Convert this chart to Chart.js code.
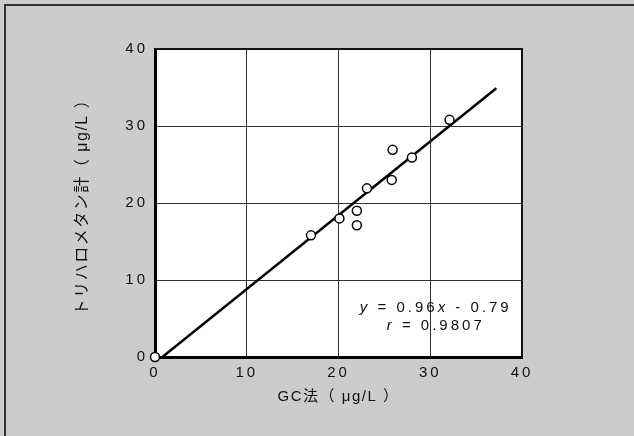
<!DOCTYPE html>
<html>
<head>
<meta charset="utf-8">
<script src="https://cdn.jsdelivr.net/npm/chart.js@4/dist/chart.umd.min.js"></script>
<style>
  html, body { margin: 0; padding: 0; background: #cccccc; }
  #wrap { position: relative; width: 634px; height: 436px; }
  #frame { position: absolute; left: 4px; top: 4px; right: 0; bottom: 0;
           border-top: 2px solid #333; border-left: 2px solid #333; pointer-events: none; }
</style>
</head>
<body>
<div id="wrap">
  <canvas id="chart" width="634" height="436"></canvas>
  <div id="frame"></div>
</div>
<script>
// 測定値
const gcValues  = [0, 17.0, 20.1, 22.0, 22.0, 23.1, 25.8, 25.9, 28.0, 32.1];
const thmValues = [0, 15.8, 18.0, 19.0, 17.1, 21.9, 23.0, 26.9, 25.9, 30.8];

// 回帰直線 (y = 0.96x - 0.79) の端点
const fitX = [0.8, 37.2];
const fitY = [0, 34.9];

const axisTicks = [0, 10, 20, 30, 40];

const FONT = "'Liberation Sans', Arial, 'Noto Sans CJK JP', sans-serif";

// 軸タイトルだけ字間を狭くする
function narrowTitle(s) {
    if (s._narrow) return;
    s._narrow = true;
    const orig = s.drawTitle;
    s.drawTitle = function () {
        const c = this.ctx;
        const ls = c.letterSpacing;
        c.letterSpacing = '1.5px';
        orig.apply(this, arguments);
        c.letterSpacing = ls;
    };
}

// プロット領域を白く塗る + 字間
const bgPlugin = {
    id: 'bg',
    beforeDraw(chart) {
        const { ctx, chartArea: a } = chart;
        ctx.save();
        ctx.fillStyle = '#fff';
        ctx.fillRect(a.left, a.top, a.right - a.left, a.bottom - a.top);
        ctx.restore();
        ctx.letterSpacing = '3px';
    }
};

// 枠線（上・右）と回帰式
const framePlugin = {
    id: 'frame',
    afterDraw(chart) {
        const { ctx, chartArea: a, scales } = chart;
        ctx.save();
        ctx.strokeStyle = '#111';
        ctx.lineWidth = 2;
        ctx.beginPath();
        ctx.moveTo(a.left, a.top);
        ctx.lineTo(a.right, a.top);
        ctx.lineTo(a.right, a.bottom);
        ctx.stroke();

        // 回帰式
        ctx.fillStyle = '#111';
        ctx.textBaseline = 'middle';
        ctx.textAlign = 'left';
        ctx.letterSpacing = '3px';
        const cx = scales.x.getPixelForValue(30.6);
        const rows = [
            { y: 6.4, parts: [['y', true], [' = 0.96', false], ['x', true], [' - 0.79', false]] },
            { y: 4.0, parts: [['r', true], [' = 0.9807', false]] }
        ];
        rows.forEach(row => {
            let total = 0;
            row.parts.forEach(p => {
                ctx.font = (p[1] ? 'italic ' : '') + '15px ' + FONT;
                total += ctx.measureText(p[0]).width;
            });
            let x = cx - total / 2;
            const y = scales.y.getPixelForValue(row.y);
            row.parts.forEach(p => {
                ctx.font = (p[1] ? 'italic ' : '') + '15px ' + FONT;
                ctx.fillText(p[0], x, y);
                x += ctx.measureText(p[0]).width;
            });
        });
        ctx.restore();
    }
};

const ctx = document.getElementById('chart').getContext('2d');
new Chart(ctx, {
    type: 'scatter',
    data: {
        datasets: [
            {
                type: 'line',
                data: fitX.map((x, i) => ({ x: x, y: fitY[i] })),
                borderColor: '#000',
                borderWidth: 2.5,
                pointRadius: 0,
                fill: false,
                order: 2
            },
            {
                data: gcValues.map((x, i) => ({ x: x, y: thmValues[i] })),
                backgroundColor: '#fff',
                borderColor: '#000',
                borderWidth: 1.5,
                pointRadius: 4.5,
                clip: false,
                order: 1
            }
        ]
    },
    options: {
        responsive: false,
        animation: false,
        layout: {
            padding: { left: 73, top: 49, right: 112, bottom: 30 }
        },
        plugins: {
            legend: { display: false },
            tooltip: { enabled: false }
        },
        scales: {
            x: {
                type: 'linear',
                min: 0,
                max: 40,
                afterBuildTicks: s => { s.ticks = axisTicks.map(v => ({ value: v })); },
                afterFit: s => { s.height = 49; narrowTitle(s); },
                grid: { color: '#333', lineWidth: 1, drawTicks: false },
                border: { color: '#000', width: 3 },
                ticks: { padding: 7, color: '#111', font: { family: FONT, size: 15 }, maxRotation: 0 },
                title: {
                    display: true,
                    text: 'GC法（ μg/L ）',
                    color: '#111',
                    padding: 0,
                    font: { family: FONT, size: 15 }
                }
            },
            y: {
                type: 'linear',
                min: 0,
                max: 40,
                afterBuildTicks: s => { s.ticks = axisTicks.map(v => ({ value: v })); },
                afterFit: s => { s.width = 82; narrowTitle(s); },
                grid: { color: '#333', lineWidth: 1, drawTicks: false },
                border: { color: '#000', width: 3 },
                ticks: { padding: 7, color: '#111', font: { family: FONT, size: 15 } },
                title: {
                    display: true,
                    text: 'トリハロメタン計（ μg/L ）',
                    color: '#111',
                    padding: 0,
                    font: { family: FONT, size: 16 }
                }
            }
        }
    },
    plugins: [bgPlugin, framePlugin]
});
</script>
</body>
</html>
